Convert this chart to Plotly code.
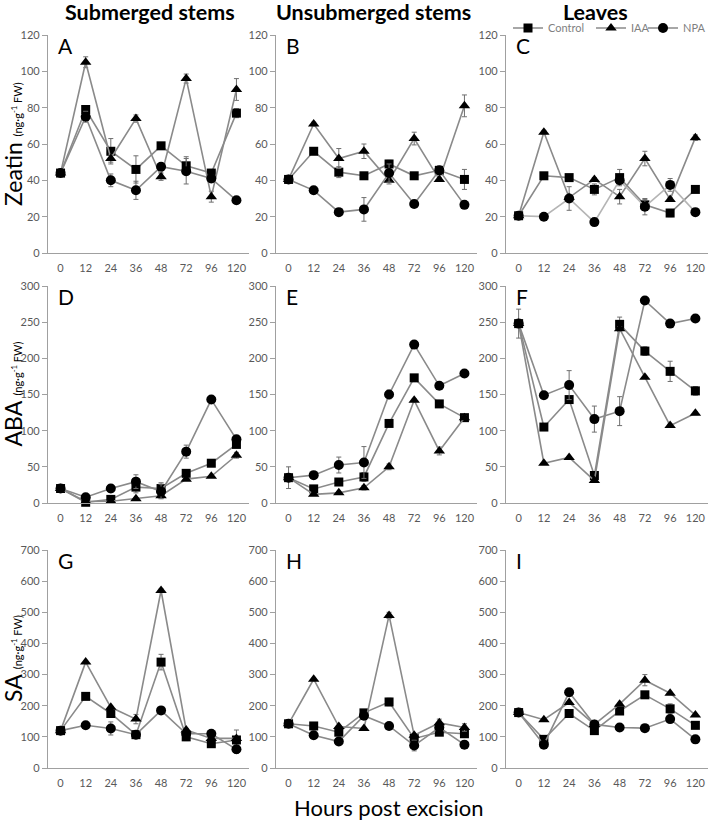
import plotly.graph_objects as go

W, H = 709, 821

hours = ["0", "12", "24", "36", "48", "72", "96", "120"]
series_names = ["Control", "IAA", "NPA"]

# ---- Zeatin ----
zea_sub_ctrl = [44, 79, 56, 46, 59, 48, 44, 77]
zea_sub_ctrl_err = [1, 2, 7, 7.5, 1.5, 5, 2, 2.5]
zea_sub_iaa = [44, 105, 52, 74, 42, 96, 31, 90]
zea_sub_iaa_err = [1, 3, 2, 2, 2, 2.5, 3, 6]
zea_sub_npa = [44, 75, 40, 34.5, 47.5, 45, 41, 29]
zea_sub_npa_err = [1, 3, 3.5, 5, 1.5, 7, 2, 1]

zea_uns_ctrl = [40.5, 56, 44.5, 42.5, 49, 42.5, 45.5, 40.5]
zea_uns_ctrl_err = [1, 1, 3, 1, 2, 1, 1, 5.5]
zea_uns_iaa = [40.5, 71, 52, 56, 40, 63, 40.5, 81]
zea_uns_iaa_err = [1, 1, 5.5, 4, 2, 3.5, 1, 6]
zea_uns_npa = [40.5, 34.5, 22.5, 24, 44, 27, 45.5, 26.5]
zea_uns_npa_err = [1, 1, 1, 6.5, 5, 1, 1, 1]

zea_lea_ctrl = [20.5, 42.5, 41.5, 35, 41.5, 26.5, 22, 35]
zea_lea_ctrl_err = [1, 1, 1, 3, 4.5, 3, 2, 1]
zea_lea_iaa = [20.5, 66.5, 30.5, 40.5, 31, 52, 29.5, 63.5]
zea_lea_iaa_err = [1, 1, 1, 1, 4, 4, 1, 1.5]
zea_lea_npa = [20.5, 20, 30, 17, 40, 25.5, 37.5, 22.5]
zea_lea_npa_err = [1, 1, 6.5, 1, 1, 4.5, 3.5, 1]

# ---- ABA ----
aba_sub_ctrl = [20, 1, 5, 22, 20, 41, 55, 81]
aba_sub_ctrl_err = [1, 1, 1, 8, 8, 1, 1, 4]
aba_sub_iaa = [20, 2, 2.5, 6, 10, 33, 37, 66]
aba_sub_iaa_err = [1, 1, 1, 1, 4, 1, 1, 4]
aba_sub_npa = [20, 8, 20, 29.5, 16, 71, 143, 88]
aba_sub_npa_err = [1, 1, 5, 9.5, 10, 9, 4, 3]

aba_uns_ctrl = [35, 19.5, 29, 36, 110, 173, 137, 118]
aba_uns_ctrl_err = [15, 2, 2, 6, 4, 2, 2, 2]
aba_uns_iaa = [35, 12, 14, 21, 50, 142, 72, 118]
aba_uns_iaa_err = [1, 1, 1, 3, 4, 2, 5.5, 2]
aba_uns_npa = [35, 38.5, 52.5, 56, 150, 219, 162, 179]
aba_uns_npa_err = [1, 1, 11, 22, 6, 1, 1, 2]

aba_lea_ctrl = [248, 105, 143, 38, 247, 210, 182, 155]
aba_lea_ctrl_err = [20, 2, 2, 3, 10, 6, 14, 6]
aba_lea_iaa = [248, 55, 63, 31, 241, 174, 107, 124]
aba_lea_iaa_err = [1, 1, 1, 1, 3, 1, 2, 2]
aba_lea_npa = [248, 149, 163, 116, 127, 280, 248, 255]
aba_lea_npa_err = [1, 1, 20, 18, 20, 1, 2, 2]

# ---- SA ----
sa_sub_ctrl = [120, 230, 175, 107, 340, 100, 78, 90]
sa_sub_ctrl_err = [3, 3, 5, 3, 25, 12, 8, 32]
sa_sub_iaa = [120, 340, 195, 157, 570, 122, 95, 95]
sa_sub_iaa_err = [3, 3, 3, 15, 5, 5, 3, 3]
sa_sub_npa = [120, 137, 127, 107, 185, 110, 110, 60]
sa_sub_npa_err = [3, 3, 21, 3, 3, 3, 3, 13]

sa_uns_ctrl = [142, 135, 115, 177, 212, 95, 115, 110]
sa_uns_ctrl_err = [3, 3, 3, 3, 12, 3, 3, 3]
sa_uns_iaa = [142, 285, 133, 127, 490, 105, 145, 130]
sa_uns_iaa_err = [3, 3, 3, 3, 10, 3, 12, 12]
sa_uns_npa = [142, 105, 85, 168, 135, 72, 130, 75]
sa_uns_npa_err = [3, 3, 3, 3, 3, 17, 3, 3]

sa_lea_ctrl = [178, 92, 175, 120, 183, 235, 190, 137]
sa_lea_ctrl_err = [3, 3, 3, 3, 3, 3, 16, 3]
sa_lea_iaa = [178, 155, 210, 140, 205, 282, 240, 170]
sa_lea_iaa_err = [3, 3, 3, 3, 3, 18, 3, 3]
sa_lea_npa = [178, 75, 243, 140, 130, 128, 157, 92]
sa_lea_npa_err = [3, 3, 12, 3, 3, 3, 3, 12]

col_titles = ["Submerged stems", "Unsubmerged stems", "Leaves"]
row_titles = ["Zeatin", "ABA", "SA"]
panel_letters = ["A", "B", "C", "D", "E", "F", "G", "H", "I"]
y_max = [120, 300, 700]
y_step = [20, 50, 100]
x_title = "Hours post excision"

panels = [
    [(zea_sub_ctrl, zea_sub_ctrl_err, zea_sub_iaa, zea_sub_iaa_err, zea_sub_npa, zea_sub_npa_err),
     (zea_uns_ctrl, zea_uns_ctrl_err, zea_uns_iaa, zea_uns_iaa_err, zea_uns_npa, zea_uns_npa_err),
     (zea_lea_ctrl, zea_lea_ctrl_err, zea_lea_iaa, zea_lea_iaa_err, zea_lea_npa, zea_lea_npa_err)],
    [(aba_sub_ctrl, aba_sub_ctrl_err, aba_sub_iaa, aba_sub_iaa_err, aba_sub_npa, aba_sub_npa_err),
     (aba_uns_ctrl, aba_uns_ctrl_err, aba_uns_iaa, aba_uns_iaa_err, aba_uns_npa, aba_uns_npa_err),
     (aba_lea_ctrl, aba_lea_ctrl_err, aba_lea_iaa, aba_lea_iaa_err, aba_lea_npa, aba_lea_npa_err)],
    [(sa_sub_ctrl, sa_sub_ctrl_err, sa_sub_iaa, sa_sub_iaa_err, sa_sub_npa, sa_sub_npa_err),
     (sa_uns_ctrl, sa_uns_ctrl_err, sa_uns_iaa, sa_uns_iaa_err, sa_uns_npa, sa_uns_npa_err),
     (sa_lea_ctrl, sa_lea_ctrl_err, sa_lea_iaa, sa_lea_iaa_err, sa_lea_npa, sa_lea_npa_err)],
]

# ---- layout geometry (pixels) ----
col_px = [(48, 249), (276, 477), (506, 708)]
row_px = [(35, 253), (286, 503), (550, 768)]
legend_px = [508, 591, 643]


def px_x(p):
    return p / W


def px_y(p):
    return 1 - p / H


LINE = "#8a8a8a"
AXIS = "#a0a0a0"
TICK = "#595959"
FONT = "Lato"
symbols = ["square", "triangle-up", "circle"]
msizes = [9, 10, 10]
legend_keys = ["legend", "legend2", "legend3"]

fig = go.Figure()
layout = dict(
    width=W, height=H, autosize=False,
    margin=dict(l=0, r=0, t=0, b=0, pad=0, autoexpand=False),
    paper_bgcolor="white", plot_bgcolor="white",
    font=dict(family=FONT, color=TICK),
    showlegend=True,
)
for i, key in enumerate(legend_keys):
    layout[key] = dict(
        orientation="h", x=px_x(legend_px[i]), y=px_y(28),
        xanchor="left", yanchor="middle",
        font=dict(family=FONT, size=11, color="#7f7f7f"),
        bgcolor="rgba(0,0,0,0)", itemwidth=30, borderwidth=0,
    )
annotations = []

for r in range(3):
    for c in range(3):
        k = r * 3 + c + 1
        xa = "x" if k == 1 else f"x{k}"
        ya = "y" if k == 1 else f"y{k}"
        data = panels[r][c]
        for s in range(3):
            vals = data[2 * s]
            errs = data[2 * s + 1]
            lc = LINE
            if r == 0 and c == 2 and s == 2:
                lc = "#b5b5b5"
            fig.add_trace(go.Scatter(
                x=hours, y=vals, xaxis=xa, yaxis=ya,
                mode="lines+markers", name=series_names[s],
                legend=legend_keys[s],
                legendgroup=series_names[s], showlegend=(k == 1),
                line=dict(color=lc, width=1.6),
                marker=dict(symbol=symbols[s], size=msizes[s], color="black"),
                error_y=dict(type="data", array=errs, visible=True,
                             color="#6f6f6f", thickness=1, width=2.5),
                cliponaxis=False,
            ))
        x0, x1 = col_px[c]
        y0, y1 = row_px[r]
        layout["xaxis" if k == 1 else f"xaxis{k}"] = dict(
            domain=[px_x(x0), px_x(x1)], anchor=ya,
            type="category", range=[-0.5, 7.5],
            showline=True, linecolor=AXIS, linewidth=1.3,
            showgrid=False, zeroline=False, ticks="",
            ticklabelstandoff=5,
            tickfont=dict(family=FONT, size=11, color=TICK),
            fixedrange=True, automargin=False,
        )
        layout["yaxis" if k == 1 else f"yaxis{k}"] = dict(
            domain=[px_y(y1), px_y(y0)], anchor=xa,
            range=[0, y_max[r]], dtick=y_step[r], tick0=0,
            showline=True, linecolor=AXIS, linewidth=1.3,
            showgrid=False, zeroline=False,
            ticks="outside", ticklen=5, tickcolor=AXIS, tickwidth=1.3,
            tickfont=dict(family=FONT, size=11, color=TICK),
            fixedrange=True, automargin=False,
        )
        annotations.append(dict(
            text=panel_letters[k - 1], xref="paper", yref="paper",
            x=px_x(x0 + 8), y=px_y(y0 + 10), xanchor="left", yanchor="middle",
            showarrow=False, font=dict(family=FONT, size=21, color="black"),
        ))

# column titles
col_centers = [150, 374, 595]
for c in range(3):
    annotations.append(dict(
        text=f"<b>{col_titles[c]}</b>", xref="paper", yref="paper",
        x=px_x(col_centers[c]), y=1.0, xanchor="center", yanchor="top",
        yshift=3,
        showarrow=False, font=dict(family=FONT, size=21.5, color="black"),
    ))

# row titles
for r in range(3):
    y0, y1 = row_px[r]
    annotations.append(dict(
        text=f"{row_titles[r]} <span style='font-size:11px'>(ng·g<sup>-1</sup> FW)</span>",
        xref="paper", yref="paper", textangle=-90,
        x=px_x(13), y=px_y((y0 + y1) / 2), xanchor="center", yanchor="middle",
        showarrow=False, font=dict(family=FONT, size=23, color="black"),
    ))

annotations.append(dict(
    text=x_title, xref="paper", yref="paper",
    x=px_x(388), y=px_y(807), xanchor="center", yanchor="middle",
    showarrow=False, font=dict(family=FONT, size=22, color="black"),
))

layout["annotations"] = annotations
fig.update_layout(**layout)
fig.write_html(
    "out.html",
    config={"displayModeBar": False},
    post_script="document.body.style.margin='0px';document.body.style.overflow='hidden';",
)
